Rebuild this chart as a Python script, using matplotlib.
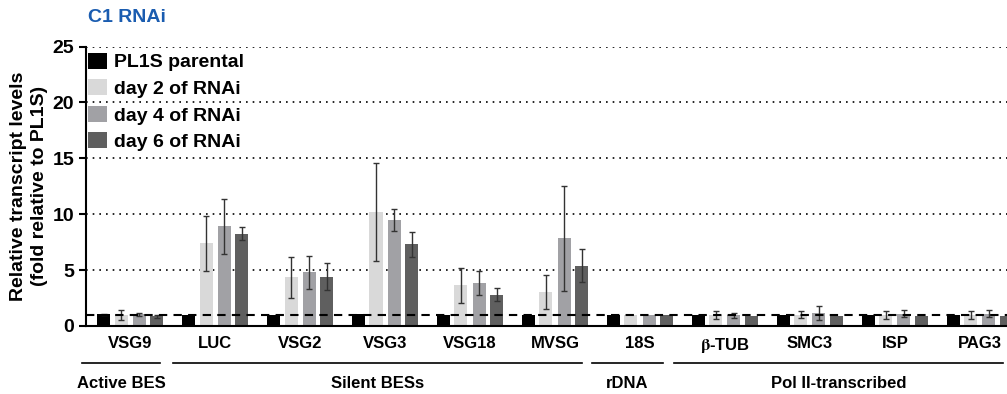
import numpy as np
import matplotlib
matplotlib.use("Agg")
import matplotlib.pyplot as plt
from matplotlib.patches import Patch

plt.rcParams['font.family'] = ['Liberation Sans', 'DejaVu Sans']
plt.rcParams['font.weight'] = 'bold'
plt.rcParams['mathtext.fontset'] = 'stix'

genes = ['VSG9', 'LUC', 'VSG2', 'VSG3', 'VSG18', 'MVSG', '18S',
         r'$\mathrm{\beta}$-TUB', 'SMC3', 'ISP', 'PAG3']
series = ['PL1S parental', 'day 2 of RNAi', 'day 4 of RNAi', 'day 6 of RNAi']

parental = [1.05, 1.0, 1.0, 1.05, 1.0, 1.0, 0.95, 1.0, 1.0, 1.0, 1.0]
day2 = [1.0, 7.4, 4.35, 10.2, 3.65, 3.05, 0.95, 1.0, 1.0, 1.0, 1.0]
day4 = [1.05, 8.9, 4.8, 9.5, 3.85, 7.85, 0.95, 0.95, 1.15, 1.1, 1.1]
day6 = [0.85, 8.25, 4.4, 7.3, 2.8, 5.4, 0.95, 0.85, 0.9, 0.9, 0.9]

err_parental = [0.05, 0, 0, 0, 0, 0, 0, 0, 0, 0, 0]
err_day2 = [0.45, 2.45, 1.85, 4.4, 1.55, 1.5, 0, 0.35, 0.3, 0.35, 0.35]
err_day4 = [0.15, 2.45, 1.5, 1.0, 1.05, 4.7, 0, 0.2, 0.6, 0.3, 0.3]
err_day6 = [0.1, 0.6, 1.2, 1.1, 0.6, 1.5, 0, 0, 0, 0, 0]

categories = ['Active BES', 'Silent BESs', 'rDNA', 'Pol II-transcribed']
cat_spans = [(-0.565, 0.353), (0.506, 5.318), (5.435, 6.27), (6.4, 10.27)]

colors = ['#000000', '#d9d9d9', '#a1a1a5', '#5f5f5f']

values = [parental, day2, day4, day6]
errors = [err_parental, err_day2, err_day4, err_day6]

fig = plt.figure(figsize=(10.07, 3.94), dpi=100)
ax = fig.add_axes([86 / 1007, 1 - 326 / 394, 1 - 86 / 1007, (326 - 46.5) / 394])

x = np.arange(len(genes))
offsets = [-0.312, -0.106, 0.106, 0.312]
width = 0.153

for vals, errs, off, c, lab in zip(values, errors, offsets, colors, series):
    errs = np.array(errs)
    ax.bar(x + off, vals, width, color=c, label=lab, zorder=2)
    mask = errs > 0
    ax.errorbar((x + off)[mask], np.array(vals)[mask], yerr=errs[mask], fmt='none',
                ecolor='#333333', elinewidth=1.0, capsize=2.5, capthick=1.0, zorder=3)

ax.axhline(1, color='black', linestyle=(0, (4, 3)), linewidth=1.5, zorder=4)

ax.set_ylim(0, 25)
ax.set_xlim(-0.518, 10.318)
ax.set_yticks([0, 5, 10, 15, 20, 25])
for yv in [5, 10, 15, 20, 25]:
    ax.axhline(yv, color='black', linestyle=(0, (1, 3)), linewidth=1.2, zorder=1)

ax.spines['top'].set_visible(False)
ax.spines['right'].set_visible(False)
ax.spines['left'].set_linewidth(1.5)
ax.spines['bottom'].set_linewidth(1.5)
ax.tick_params(axis='y', labelsize=14, width=1.5, length=5)
ax.tick_params(axis='x', length=0, labelsize=12, pad=7)
ax.set_xticks(x)
ax.set_xticklabels(genes)
for t in ax.get_yticklabels() + ax.get_xticklabels():
    t.set_fontweight('bold')

ax.set_ylabel('Relative transcript levels\n(fold relative to PL1S)', fontsize=14,
              fontweight='bold', labelpad=3, linespacing=1.3)

# category underlines and labels
trans = ax.get_xaxis_transform()
line_y = -(363 - 326) / (326 - 46.5)
lab_y = -(383 - 326) / (326 - 46.5)
for name, (a, b) in zip(categories, cat_spans):
    ax.plot([a, b], [line_y, line_y], color='black', linewidth=1.2,
            transform=trans, clip_on=False)
    ax.text((a + b) / 2, lab_y, name, transform=trans, ha='center', va='center',
            fontsize=12, fontweight='bold')

handles = [Patch(facecolor=c, label=s) for c, s in zip(colors, series)]
leg = ax.legend(handles=handles, loc='upper left', bbox_to_anchor=(0.0, 0.985),
                frameon=False, handlelength=1.0, handleheight=0.9,
                handletextpad=0.35, labelspacing=0.4, borderaxespad=0.0,
                borderpad=0.1, prop={'weight': 'bold', 'size': 14})

fig.text(88 / 1007, 1 - 18 / 394, 'C1 RNAi', color='#1a5cb0', fontsize=14,
         fontweight='bold', ha='left', va='center')

fig.savefig('out.png', dpi=100)
